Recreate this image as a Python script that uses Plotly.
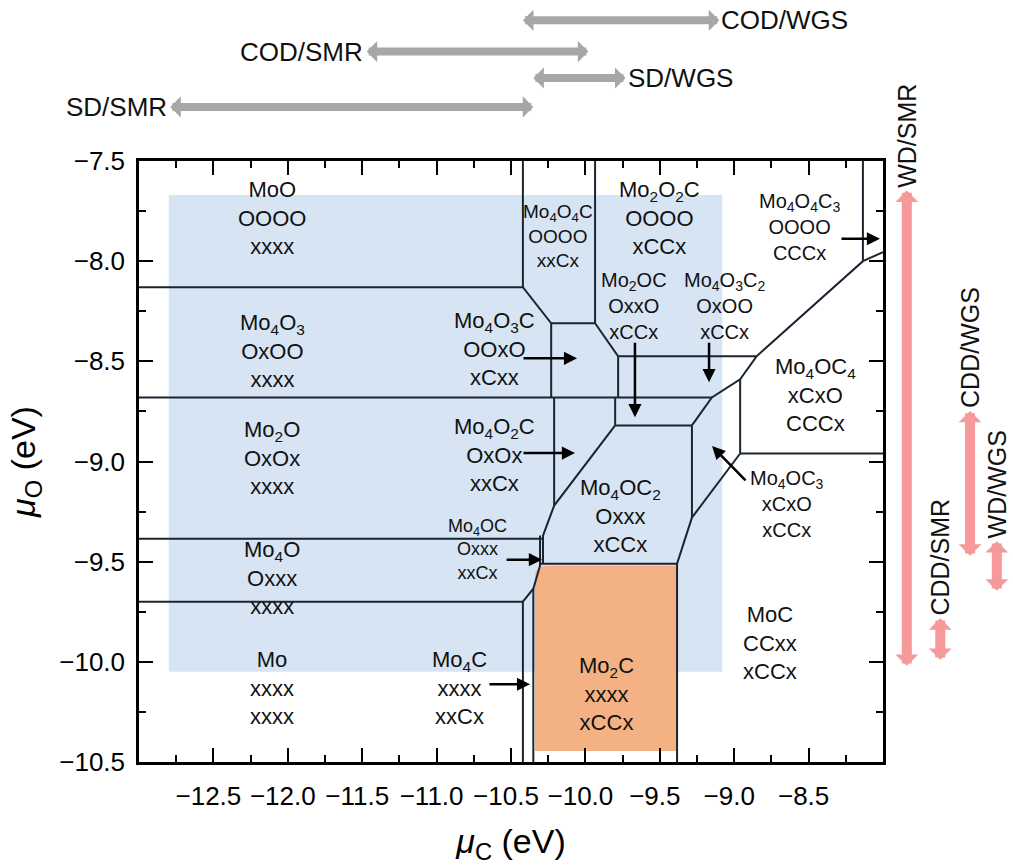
import plotly.graph_objects as go

# ---------------- axes ----------------
x_range = [-13.0, -8.0]
y_range = [-10.5, -7.5]
x_ticks = [-12.5, -12.0, -11.5, -11.0, -10.5, -10.0, -9.5, -9.0, -8.5]
y_ticks = [-7.5, -8.0, -8.5, -9.0, -9.5, -10.0, -10.5]

# ---------------- phase boundaries (muC, muO polylines) ----------------
boundary_muC = [
    [-13.0, -10.42, -10.23, -9.935, -9.78, -8.85],
    [-10.42, -10.42],
    [-9.935, -9.935],
    [-10.23, -10.23],
    [-13.0, -9.15],
    [-9.78, -9.78],
    [-10.21, -10.21],
    [-9.80, -9.80],
    [-9.80, -9.284],
    [-9.284, -9.15, -8.96, -8.85, -8.135, -8.0],
    [-8.135, -8.135],
    [-8.96, -8.96],
    [-8.96, -8.0],
    [-8.96, -9.284, -9.384, -9.384],
    [-9.284, -9.284],
    [-9.80, -10.21, -10.285, -10.285],
    [-10.305, -10.305, -10.35, -10.42],
    [-13.0, -10.285],
    [-10.305, -9.384],
    [-13.0, -10.42],
    [-10.42, -10.42],
    [-10.35, -10.35],
]
boundary_muO = [
    [-8.13, -8.13, -8.31, -8.31, -8.475, -8.475],
    [-7.5, -8.13],
    [-7.5, -8.31],
    [-8.31, -8.68],
    [-8.68, -8.68],
    [-8.475, -8.68],
    [-8.68, -9.22],
    [-8.68, -8.82],
    [-8.82, -8.82],
    [-8.82, -8.68, -8.59, -8.475, -8.0, -7.955],
    [-7.5, -8.0],
    [-8.59, -8.96],
    [-8.96, -8.96],
    [-8.96, -9.28, -9.51, -10.5],
    [-8.82, -9.28],
    [-8.82, -9.22, -9.37, -9.51],
    [-9.37, -9.52, -9.635, -9.70],
    [-9.386, -9.386],
    [-9.51, -9.51],
    [-9.70, -9.70],
    [-9.70, -10.5],
    [-9.635, -10.5],
]

# shaded windows
blue_muC = [-12.80, -9.08]
blue_muO = [-7.67, -10.05]
mo2c_muC = [-10.339, -9.384]
mo2c_muO = [-9.52, -10.445]

# ---------------- region labels ----------------
region_formula = ["MoO", "Mo<sub>4</sub>O<sub>3</sub>", "Mo<sub>2</sub>O", "Mo<sub>4</sub>O", "Mo",
                  "Mo<sub>4</sub>C", "Mo<sub>4</sub>OC", "Mo<sub>4</sub>O<sub>2</sub>C",
                  "Mo<sub>4</sub>O<sub>3</sub>C", "Mo<sub>4</sub>O<sub>4</sub>C",
                  "Mo<sub>2</sub>O<sub>2</sub>C", "Mo<sub>2</sub>OC",
                  "Mo<sub>4</sub>O<sub>3</sub>C<sub>2</sub>", "Mo<sub>4</sub>O<sub>4</sub>C<sub>3</sub>",
                  "Mo<sub>4</sub>OC<sub>4</sub>", "Mo<sub>4</sub>OC<sub>3</sub>",
                  "Mo<sub>4</sub>OC<sub>2</sub>", "Mo<sub>2</sub>C", "MoC"]
region_top = ["OOOO", "OxOO", "OxOx", "Oxxx", "xxxx", "xxxx", "Oxxx", "OxOx", "OOxO", "OOOO",
              "OOOO", "OxxO", "OxOO", "OOOO", "xCxO", "xCxO", "Oxxx", "xxxx", "CCxx"]
region_bottom = ["xxxx", "xxxx", "xxxx", "xxxx", "xxxx", "xxCx", "xxCx", "xxCx", "xCxx", "xxCx",
                 "xCCx", "xCCx", "xCCx", "CCCx", "CCCx", "xCCx", "xCCx", "xCCx", "xCCx"]
region_muC = [-12.106, -12.106, -12.106, -12.106, -12.106, -10.843, -10.728, -10.608, -10.608,
              -10.184, -9.499, -9.673, -9.062, -8.558, -8.457, -8.645, -9.767, -9.855, -8.759]
region_muO = [-7.784, -8.450, -8.983, -9.580, -10.132, -10.132, -9.440, -8.968, -8.440,
              -7.873, -7.784, -8.226, -8.226, -7.828, -8.669, -9.211, -9.271, -10.162, -9.908]
region_font = [22, 22, 22, 22, 22, 22, 18, 22, 22, 19, 22, 20, 20, 20, 22, 20, 22, 22, 22]

# pointer arrows (tail -> head)
pointer_tail_muC = [-10.426, -10.426, -10.540, -10.655, -9.667, -9.169, -8.914, -8.289]
pointer_tail_muO = [-8.485, -8.958, -9.490, -10.112, -8.400, -8.400, -9.102, -7.888]
pointer_head_muC = [-10.056, -10.070, -10.292, -10.372, -9.667, -9.169, -9.149, -8.020]
pointer_head_muO = [-8.485, -8.958, -9.490, -10.112, -8.779, -8.604, -8.923, -7.888]

# ---------------- process windows ----------------
top_names = ["COD/WGS", "COD/SMR", "SD/WGS", "SD/SMR"]
top_from_muC = [-10.43, -11.48, -10.36, -12.80]
top_to_muC = [-9.10, -9.98, -9.73, -10.35]
top_label_side = ["right", "left", "right", "left"]
top_row = [1.234, 1.182, 1.138, 1.090]

right_names = ["WD/SMR", "CDD/WGS", "WD/WGS", "CDD/SMR"]
right_top_muO = [-7.64, -8.74, -9.39, -9.775]
right_bottom_muO = [-10.02, -9.47, -9.645, -9.99]
right_col = [1.032, 1.117, 1.153, 1.077]

# ---------------- styles ----------------
FONT = "Liberation Sans, Arial, sans-serif"
LINE = "#1b2530"
BLUE = "#d6e4f3"
ORANGE = "#f4b183"
GRAY = "#a9a6a6"
PINK = "#f5999b"
TXT = "#111111"

fig = go.Figure()

xs, ys = [], []
for cs, os_ in zip(boundary_muC, boundary_muO):
    xs += cs + [None]
    ys += os_ + [None]
fig.add_trace(go.Scatter(x=xs, y=ys, mode="lines", line=dict(color=LINE, width=2),
                         hoverinfo="skip", showlegend=False))

fig.add_shape(type="rect", xref="x", yref="y", x0=blue_muC[0], x1=blue_muC[1],
              y0=blue_muO[0], y1=blue_muO[1], fillcolor=BLUE, line=dict(width=0), layer="below")
c0, c1 = mo2c_muC
o0, o1 = mo2c_muO
rx, ry = 0.08, 0.06
path = (f"M {c0},{o1} L {c0},{o0 - ry} Q {c0},{o0} {c0 + rx},{o0} "
        f"L {c1},{o0} L {c1},{o1} Z")
fig.add_shape(type="path", xref="x", yref="y", path=path, fillcolor=ORANGE,
              line=dict(width=0), layer="below")

ann = []
for f, t, b, cx, cy, fs in zip(region_formula, region_top, region_bottom,
                               region_muC, region_muO, region_font):
    ann.append(dict(x=cx, y=cy, xref="x", yref="y", text=f"{f}<br>{t}<br>{b}",
                    showarrow=False, align="center", font=dict(family=FONT, size=fs, color=TXT)))

for tc, to, hc, ho in zip(pointer_tail_muC, pointer_tail_muO, pointer_head_muC, pointer_head_muO):
    ann.append(dict(x=hc, y=ho, xref="x", yref="y", ax=tc, ay=to, axref="x", ayref="y",
                    text="", showarrow=True, arrowhead=2, arrowsize=1.05, arrowwidth=2.5,
                    arrowcolor="#000000"))

for n, a, b, side, r in zip(top_names, top_from_muC, top_to_muC, top_label_side, top_row):
    ann.append(dict(x=b, y=r, xref="x", yref="paper", ax=a, ay=0, axref="x", ayref="pixel",
                    text="", showarrow=True, arrowside="end+start", arrowhead=1, startarrowhead=1,
                    arrowsize=0.44, startarrowsize=0.44, arrowwidth=8, arrowcolor=GRAY))
    if side == "right":
        ann.append(dict(x=b, y=r, xref="x", yref="paper", text=n, showarrow=False,
                        xanchor="left", yanchor="middle", xshift=0,
                        font=dict(family=FONT, size=26, color=TXT)))
    else:
        ann.append(dict(x=a, y=r, xref="x", yref="paper", text=n, showarrow=False,
                        xanchor="right", yanchor="middle", xshift=0,
                        font=dict(family=FONT, size=26, color=TXT)))

for n, t, b, c in zip(right_names, right_top_muO, right_bottom_muO, right_col):
    ann.append(dict(x=c, y=b, xref="paper", yref="y", ax=0, ay=t, axref="pixel", ayref="y",
                    text="", showarrow=True, arrowside="end+start", arrowhead=1, startarrowhead=1,
                    arrowsize=0.38, startarrowsize=0.38, arrowwidth=10, arrowcolor=PINK))
    ann.append(dict(x=c, y=t, xref="paper", yref="y", text=n, showarrow=False, textangle=-90,
                    xanchor="center", yanchor="bottom", borderpad=0,
                    font=dict(family=FONT, size=25, color=TXT)))

axis_common = dict(showline=True, linecolor="#000000", linewidth=2.5, mirror="ticks",
                   ticks="inside", ticklen=14, tickwidth=2, tickcolor="#000000",
                   showgrid=False, zeroline=False, tickformat=".1f",
                   tickfont=dict(family=FONT, size=26, color="#000000"))

fig.update_layout(
    width=1013, height=867,
    margin=dict(l=139, r=130, t=161, b=103),
    paper_bgcolor="white", plot_bgcolor="white",
    font=dict(family=FONT, color="#000000"),
    annotations=ann,
    xaxis=dict(range=x_range, tickvals=x_ticks,
               minor=dict(dtick=0.25, tick0=-13.0, ticks="inside", ticklen=7, tickwidth=2,
                          tickcolor="#000000"),
               title=dict(text="<i>μ</i><sub>C</sub> (eV)", font=dict(family=FONT, size=34),
                          standoff=20),
               ticklabelstandoff=9, ticklabelshift=-5, **axis_common),
    yaxis=dict(range=y_range, tickvals=y_ticks,
               minor=dict(dtick=0.25, tick0=-10.5, ticks="inside", ticklen=7, tickwidth=2,
                          tickcolor="#000000"),
               title=dict(text="<i>μ</i><sub>O</sub> (eV)", font=dict(family=FONT, size=34),
                          standoff=14),
               ticklabelstandoff=6, **axis_common),
)

fig.write_html("out.html", config={"displayModeBar": False},
               post_script="document.body.style.margin='0';")
